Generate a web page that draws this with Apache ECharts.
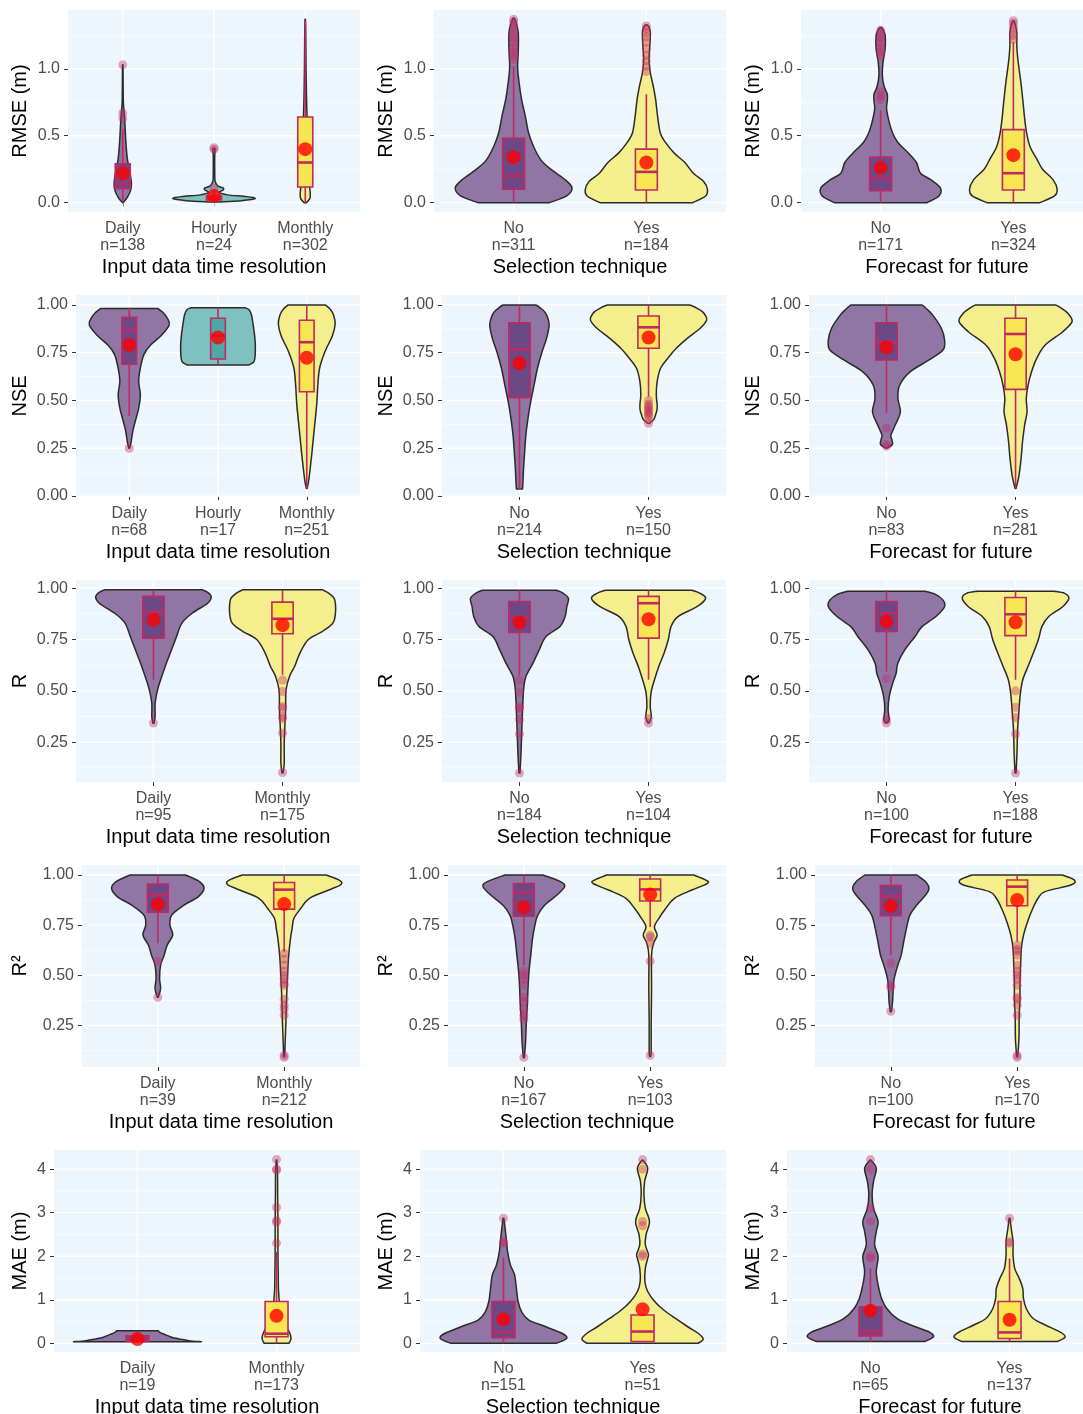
<!DOCTYPE html>
<html>
<head>
<meta charset="utf-8">
<script src="https://cdn.jsdelivr.net/npm/echarts@6/dist/echarts.min.js"></script>
<style>
  html, body { margin: 0; padding: 0; background: #ffffff; }
  #chart { width: 1083px; height: 1414px; }
</style>
</head>
<body>
<div id="chart"></div>
<script>
// ---------------------------------------------------------------
// Axis titles and tick values
// ---------------------------------------------------------------
const metricTitles = ['RMSE (m)', 'NSE', 'R', 'R²', 'MAE (m)'];
const factorTitles = ['Input data time resolution', 'Selection technique', 'Forecast for future'];

const rmseTicks = [0, 0.5, 1.0];
const rmseTickLabels = ['0.0', '0.5', '1.0'];
const rmseMinor = [0.25, 0.75, 1.25];
const nseTicks = [0, 0.25, 0.5, 0.75, 1.0];
const nseTickLabels = ['0.00', '0.25', '0.50', '0.75', '1.00'];
const nseMinor = [0.125, 0.375, 0.625, 0.875];
const rTicks = [0.25, 0.5, 0.75, 1.0];
const rTickLabels = ['0.25', '0.50', '0.75', '1.00'];
const rMinor = [0.125, 0.375, 0.625, 0.875];
const r2Ticks = [0.25, 0.5, 0.75, 1.0];
const r2TickLabels = ['0.25', '0.50', '0.75', '1.00'];
const r2Minor = [0.125, 0.375, 0.625, 0.875];
const maeTicks = [0, 1, 2, 3, 4];
const maeTickLabels = ['0', '1', '2', '3', '4'];
const maeMinor = [0.5, 1.5, 2.5, 3.5];

// Violin outlines are [value, half-width in category units], bottom to top.
// Boxes are [lower whisker, Q1, median, Q3, upper whisker].

// ---------------- RMSE ----------------
const rmseResCats = ['Daily', 'Hourly', 'Monthly'];
const rmseResN = [138, 24, 302];
const rmseResShapes = [
  [[0.0,0.003],[0.04,0.05],[0.09,0.085],[0.14,0.095],[0.2,0.085],[0.27,0.065],[0.33,0.05],[0.4,0.04],[0.48,0.032],[0.56,0.026],[0.63,0.02],[0.69,0.013],[0.76,0.006],[0.9,0.004],[1.03,0.003]],
  [[0.005,0.05],[0.015,0.3],[0.03,0.45],[0.045,0.36],[0.058,0.15],[0.075,0.06],[0.095,0.1],[0.11,0.1],[0.125,0.04],[0.16,0.012],[0.25,0.008],[0.35,0.008],[0.4,0.012],[0.41,0.003]],
  [[0.0,0.012],[0.03,0.05],[0.07,0.055],[0.12,0.048],[0.2,0.04],[0.3,0.035],[0.4,0.03],[0.5,0.026],[0.6,0.022],[0.7,0.017],[0.85,0.012],[1.0,0.009],[1.15,0.007],[1.3,0.005],[1.37,0.002]]
];
const rmseResBoxes = [[0.01,0.104,0.14,0.29,0.55],[0.005,0.02,0.03,0.05,0.1],[0.0,0.117,0.30,0.64,1.36]];
const rmseResMeans = [0.22, 0.05, 0.40];
const rmseResOutliers = [[0.63,0.67,1.03],[0.11,0.4,0.41],[]];

const rmseSelCats = ['No', 'Yes'];
const rmseSelN = [311, 184];
const rmseSelShapes = [
  [[0.0,0.27],[0.05,0.40],[0.11,0.44],[0.17,0.39],[0.25,0.28],[0.32,0.205],[0.42,0.15],[0.52,0.113],[0.65,0.087],[0.77,0.06],[0.89,0.042],[1.01,0.03],[1.14,0.035],[1.27,0.035],[1.34,0.02],[1.38,0.004]],
  [[0.0,0.35],[0.05,0.446],[0.1,0.46],[0.16,0.43],[0.22,0.354],[0.3,0.29],[0.37,0.21],[0.45,0.144],[0.52,0.105],[0.65,0.084],[0.77,0.07],[0.87,0.052],[0.97,0.03],[1.07,0.02],[1.17,0.026],[1.27,0.03],[1.31,0.02],[1.33,0.004]]
];
const rmseSelBoxes = [[0.0,0.10,0.20,0.48,1.02],[0.0,0.095,0.23,0.40,0.81]];
const rmseSelMeans = [0.34, 0.30];
const rmseSelOutliers = [[1.07,1.1,1.13,1.16,1.2,1.23,1.26,1.29,1.32,1.35,1.37],[0.98,1.02,1.06,1.1,1.15,1.2,1.24,1.27,1.3,1.32]];

const rmseFutCats = ['No', 'Yes'];
const rmseFutN = [171, 324];
const rmseFutShapes = [
  [[0.0,0.35],[0.05,0.44],[0.11,0.45],[0.17,0.38],[0.22,0.30],[0.3,0.27],[0.37,0.21],[0.45,0.13],[0.52,0.09],[0.6,0.065],[0.7,0.045],[0.76,0.05],[0.81,0.05],[0.87,0.026],[0.95,0.013],[1.05,0.018],[1.15,0.034],[1.25,0.034],[1.29,0.02],[1.31,0.004]],
  [[0.0,0.2],[0.05,0.31],[0.1,0.33],[0.17,0.30],[0.25,0.22],[0.32,0.18],[0.42,0.125],[0.52,0.10],[0.62,0.086],[0.75,0.073],[0.87,0.06],[0.97,0.047],[1.07,0.034],[1.17,0.026],[1.27,0.026],[1.33,0.015],[1.36,0.003]]
];
const rmseFutBoxes = [[0.0,0.09,0.18,0.34,0.69],[0.0,0.095,0.22,0.546,1.2]];
const rmseFutMeans = [0.26, 0.355];
const rmseFutOutliers = [[0.77,0.8,0.83,1.1,1.13,1.16,1.2,1.23,1.26,1.29],[1.22,1.25,1.28,1.31,1.34,1.36]];

// ---------------- NSE ----------------
const nseResCats = ['Daily', 'Hourly', 'Monthly'];
const nseResN = [68, 17, 251];
const nseResShapes = [
  [[0.25,0.004],[0.28,0.02],[0.34,0.04],[0.39,0.067],[0.46,0.106],[0.53,0.125],[0.6,0.106],[0.67,0.125],[0.74,0.165],[0.79,0.24],[0.84,0.36],[0.895,0.45],[0.93,0.43],[0.96,0.38],[0.982,0.32]],
  [[0.686,0.35],[0.7,0.40],[0.72,0.415],[0.75,0.42],[0.8,0.42],[0.85,0.41],[0.9,0.395],[0.95,0.376],[0.975,0.35],[0.985,0.31]],
  [[0.04,0.004],[0.075,0.02],[0.145,0.039],[0.23,0.059],[0.32,0.078],[0.41,0.098],[0.49,0.114],[0.58,0.125],[0.67,0.145],[0.755,0.205],[0.84,0.29],[0.9,0.32],[0.95,0.30],[0.98,0.26],[1.0,0.21]]
];
const nseResBoxes = [[0.42,0.69,0.87,0.935,0.985],[0.69,0.717,0.84,0.93,0.985],[0.04,0.546,0.805,0.92,1.0]];
const nseResMeans = [0.79, 0.83, 0.724];
const nseResOutliers = [[0.25],[],[]];

const nseSelCats = ['No', 'Yes'];
const nseSelN = [214, 150];
const nseSelShapes = [
  [[0.037,0.024],[0.06,0.026],[0.145,0.032],[0.23,0.04],[0.32,0.05],[0.41,0.067],[0.49,0.086],[0.58,0.113],[0.67,0.14],[0.755,0.175],[0.825,0.21],[0.895,0.23],[0.94,0.215],[0.965,0.194],[0.985,0.16],[1.0,0.127]],
  [[0.38,0.004],[0.40,0.04],[0.424,0.054],[0.45,0.065],[0.476,0.067],[0.53,0.06],[0.6,0.067],[0.67,0.094],[0.72,0.148],[0.773,0.215],[0.825,0.30],[0.878,0.40],[0.92,0.45],[0.945,0.44],[0.965,0.417],[0.985,0.37],[1.0,0.32]]
];
const nseSelBoxes = [[0.037,0.515,0.768,0.907,1.0],[0.52,0.773,0.883,0.942,1.0]];
const nseSelMeans = [0.695, 0.83];
const nseSelOutliers = [[],[0.38,0.40,0.42,0.43,0.44,0.45,0.46,0.47,0.48,0.5]];

const nseFutCats = ['No', 'Yes'];
const nseFutN = [83, 281];
const nseFutShapes = [
  [[0.25,0.004],[0.265,0.04],[0.276,0.048],[0.3,0.04],[0.32,0.035],[0.37,0.067],[0.44,0.108],[0.51,0.089],[0.58,0.102],[0.65,0.183],[0.712,0.33],[0.764,0.438],[0.817,0.45],[0.878,0.425],[0.948,0.357],[0.98,0.31],[1.0,0.277]],
  [[0.04,0.004],[0.11,0.027],[0.197,0.043],[0.284,0.054],[0.37,0.07],[0.44,0.089],[0.51,0.083],[0.58,0.097],[0.65,0.124],[0.72,0.164],[0.79,0.23],[0.86,0.366],[0.913,0.438],[0.956,0.405],[0.985,0.35],[1.0,0.31]]
];
const nseFutBoxes = [[0.433,0.712,0.805,0.907,1.0],[0.04,0.558,0.848,0.93,1.0]];
const nseFutMeans = [0.777, 0.742];
const nseFutOutliers = [[0.355,0.27,0.26],[]];

// ---------------- R ----------------
const rResCats = ['Daily', 'Monthly'];
const rResN = [95, 175];
const rResShapes = [
  [[0.342,0.004],[0.375,0.013],[0.44,0.013],[0.505,0.032],[0.57,0.064],[0.635,0.10],[0.70,0.14],[0.766,0.18],[0.83,0.22],[0.878,0.30],[0.927,0.42],[0.96,0.448],[0.98,0.42],[0.992,0.38]],
  [[0.1,0.004],[0.148,0.013],[0.245,0.013],[0.343,0.019],[0.41,0.024],[0.505,0.027],[0.57,0.054],[0.62,0.094],[0.683,0.134],[0.75,0.20],[0.79,0.31],[0.83,0.39],[0.878,0.41],[0.92,0.41],[0.95,0.40],[0.975,0.36],[0.992,0.31]]
];
const rResBoxes = [[0.554,0.757,0.883,0.96,0.99],[0.578,0.778,0.851,0.932,0.99]];
const rResMeans = [0.846, 0.82];
const rResOutliers = [[0.343],[0.553,0.497,0.424,0.415,0.375,0.365,0.294,0.102]];

const rSelCats = ['No', 'Yes'];
const rSelN = [184, 104];
const rSelShapes = [
  [[0.1,0.004],[0.21,0.013],[0.36,0.021],[0.505,0.032],[0.57,0.05],[0.635,0.105],[0.70,0.153],[0.765,0.206],[0.813,0.314],[0.862,0.354],[0.91,0.367],[0.95,0.38],[0.975,0.34],[0.99,0.287]],
  [[0.343,0.004],[0.375,0.021],[0.424,0.013],[0.49,0.019],[0.554,0.046],[0.62,0.08],[0.683,0.12],[0.75,0.153],[0.813,0.174],[0.862,0.228],[0.91,0.375],[0.95,0.442],[0.975,0.40],[0.99,0.335]]
];
const rSelBoxes = [[0.573,0.784,0.857,0.935,0.99],[0.554,0.757,0.927,0.96,0.99]];
const rSelMeans = [0.833, 0.849];
const rSelOutliers = [[0.55,0.495,0.42,0.415,0.36,0.29,0.1],[0.365,0.343]];

const rFutCats = ['No', 'Yes'];
const rFutN = [100, 188];
const rFutShapes = [
  [[0.343,0.004],[0.36,0.021],[0.41,0.013],[0.47,0.021],[0.537,0.048],[0.586,0.075],[0.635,0.088],[0.70,0.142],[0.765,0.222],[0.813,0.276],[0.862,0.383],[0.91,0.45],[0.943,0.437],[0.97,0.38],[0.985,0.30]],
  [[0.1,0.004],[0.196,0.011],[0.31,0.016],[0.41,0.027],[0.49,0.038],[0.554,0.056],[0.62,0.097],[0.683,0.137],[0.75,0.177],[0.813,0.204],[0.862,0.257],[0.91,0.365],[0.95,0.413],[0.975,0.38],[0.985,0.298]]
];
const rFutBoxes = [[0.594,0.789,0.878,0.935,0.99],[0.554,0.769,0.873,0.955,0.99]];
const rFutMeans = [0.838, 0.834];
const rFutOutliers = [[0.56,0.36,0.343],[0.5,0.42,0.37,0.29,0.1]];

// ---------------- R² ----------------
const r2ResCats = ['Daily', 'Monthly'];
const r2ResN = [39, 212];
const r2ResShapes = [
  [[0.39,0.004],[0.434,0.022],[0.484,0.014],[0.55,0.022],[0.6,0.05],[0.65,0.074],[0.7,0.118],[0.75,0.096],[0.8,0.11],[0.85,0.207],[0.89,0.317],[0.933,0.366],[0.967,0.33],[1.0,0.22]],
  [[0.093,0.004],[0.168,0.008],[0.268,0.014],[0.35,0.017],[0.434,0.022],[0.518,0.028],[0.6,0.036],[0.684,0.05],[0.734,0.063],[0.784,0.077],[0.834,0.132],[0.884,0.2],[0.925,0.353],[0.953,0.45],[0.975,0.435],[1.0,0.33]]
];
const r2ResBoxes = [[0.66,0.814,0.9,0.955,1.0],[0.617,0.83,0.927,0.963,1.0]];
const r2ResMeans = [0.854, 0.855];
const r2ResOutliers = [[0.57,0.39],[0.61,0.58,0.55,0.52,0.5,0.48,0.46,0.45,0.38,0.35,0.33,0.3,0.1,0.09]];

const r2SelCats = ['No', 'Yes'];
const r2SelN = [167, 103];
const r2SelShapes = [
  [[0.088,0.004],[0.168,0.014],[0.268,0.02],[0.35,0.028],[0.434,0.033],[0.518,0.041],[0.6,0.055],[0.684,0.069],[0.75,0.088],[0.8,0.11],[0.85,0.166],[0.9,0.262],[0.942,0.323],[0.967,0.29],[1.0,0.15]],
  [[0.095,0.004],[0.118,0.008],[0.268,0.008],[0.434,0.011],[0.6,0.011],[0.66,0.027],[0.7,0.055],[0.742,0.033],[0.784,0.069],[0.834,0.124],[0.884,0.192],[0.925,0.33],[0.958,0.453],[0.975,0.44],[1.0,0.343]]
];
const r2SelBoxes = [[0.55,0.795,0.912,0.958,1.0],[0.74,0.87,0.928,0.98,1.0]];
const r2SelMeans = [0.839, 0.903];
const r2SelOutliers = [[0.52,0.5,0.48,0.45,0.39,0.37,0.33,0.3,0.28,0.09],[0.7,0.69,0.66,0.57,0.1]];

const r2FutCats = ['No', 'Yes'];
const r2FutN = [100, 170];
const r2FutShapes = [
  [[0.318,0.004],[0.368,0.014],[0.434,0.019],[0.484,0.027],[0.55,0.055],[0.6,0.082],[0.667,0.102],[0.734,0.124],[0.8,0.151],[0.85,0.206],[0.9,0.275],[0.933,0.302],[0.967,0.275],[1.0,0.206]],
  [[0.093,0.004],[0.185,0.014],[0.3,0.016],[0.385,0.022],[0.468,0.022],[0.55,0.027],[0.634,0.033],[0.7,0.05],[0.767,0.082],[0.834,0.124],[0.884,0.165],[0.917,0.22],[0.95,0.426],[0.975,0.453],[1.0,0.357]]
];
const r2FutBoxes = [[0.6,0.797,0.895,0.947,1.0],[0.667,0.847,0.942,0.975,1.0]];
const r2FutMeans = [0.845, 0.875];
const r2FutOutliers = [[0.56,0.45,0.44,0.32],[0.65,0.63,0.62,0.6,0.55,0.52,0.5,0.48,0.45,0.39,0.38,0.35,0.3,0.1,0.09]];

// ---------------- MAE ----------------
const maeResCats = ['Daily', 'Monthly'];
const maeResN = [19, 173];
const maeResShapes = [
  [[0.035,0.46],[0.06,0.37],[0.1,0.3],[0.135,0.25],[0.2,0.2],[0.25,0.16],[0.29,0.15]],
  [[0.0,0.09],[0.11,0.104],[0.26,0.092],[0.38,0.067],[0.53,0.043],[0.84,0.024],[1.22,0.014],[1.6,0.012],[2.07,0.01],[2.76,0.01],[3.4,0.008],[3.9,0.007],[4.21,0.002]]
];
const maeResBoxes = [[0.03,0.04,0.08,0.17,0.28],[0.0,0.15,0.22,0.96,2.1]];
const maeResMeans = [0.1, 0.63];
const maeResOutliers = [[],[4.22,4.0,3.98,3.12,2.82,2.78,2.3]];

const maeSelCats = ['No', 'Yes'];
const maeSelN = [151, 51];
const maeSelShapes = [
  [[0.0,0.38],[0.115,0.455],[0.23,0.42],[0.38,0.305],[0.54,0.18],[0.73,0.13],[0.96,0.105],[1.26,0.093],[1.57,0.08],[1.8,0.05],[2.1,0.03],[2.34,0.022],[2.64,0.012],[2.87,0.003]],
  [[0.0,0.4],[0.1,0.436],[0.23,0.4],[0.38,0.325],[0.57,0.237],[0.77,0.15],[0.96,0.087],[1.19,0.037],[1.42,0.017],[1.72,0.02],[1.95,0.037],[2.05,0.042],[2.26,0.02],[2.49,0.025],[2.8,0.05],[3.1,0.02],[3.41,0.01],[3.72,0.015],[4.02,0.037],[4.21,0.003]]
];
const maeSelBoxes = [[0.0,0.13,0.25,0.96,1.97],[0.0,0.04,0.27,0.65,0.65]];
const maeSelMeans = [0.55, 0.78];
const maeSelOutliers = [[2.87,2.33,2.3],[4.22,4.0,2.8,2.7,2.05,2.0]];

const maeFutCats = ['No', 'Yes'];
const maeFutN = [65, 137];
const maeFutShapes = [
  [[0.04,0.39],[0.15,0.454],[0.27,0.416],[0.42,0.29],[0.57,0.19],[0.8,0.117],[1.03,0.08],[1.34,0.055],[1.65,0.042],[1.99,0.055],[2.26,0.03],[2.57,0.042],[2.8,0.055],[3.1,0.022],[3.41,0.012],[3.72,0.022],[4.02,0.042],[4.21,0.003]],
  [[0.04,0.344],[0.15,0.40],[0.27,0.357],[0.42,0.257],[0.57,0.17],[0.8,0.12],[1.03,0.10],[1.26,0.095],[1.49,0.07],[1.72,0.037],[2.03,0.025],[2.34,0.025],[2.64,0.012],[2.87,0.003]]
];
const maeFutBoxes = [[0.04,0.17,0.27,0.84,1.72],[0.04,0.11,0.25,0.96,1.95]];
const maeFutMeans = [0.75, 0.54];
const maeFutOutliers = [[4.22,4.0,3.1,2.8,2.0,1.95],[2.87,2.33,2.3]];

// ---------------------------------------------------------------
// Styling
// ---------------------------------------------------------------
const FONT = '"Liberation Sans", Arimo, Helvetica, Arial, sans-serif';
const PANEL_BG = '#EDF5FD';
const BOX_LINE = '#BE2A62';
const violinFill = { Daily: '#9175A5', Hourly: '#7EC1C0', Monthly: '#F5EE8C', No: '#9175A5', Yes: '#F5EE8C' };
const boxFill = { Daily: '#6E4787', Hourly: '#4FA8A6', Monthly: '#F8E552', No: '#6E4787', Yes: '#F8E552' };
const BOX_WIDTH = 0.165;

// Axis setup for each metric row
const metricAxes = [
  { ticks: rmseTicks, labels: rmseTickLabels, minor: rmseMinor, range: [-0.07, 1.44] },
  { ticks: nseTicks, labels: nseTickLabels, minor: nseMinor, range: [-0.005, 1.052] },
  { ticks: rTicks, labels: rTickLabels, minor: rMinor, range: [0.056, 1.04] },
  { ticks: r2Ticks, labels: r2TickLabels, minor: r2Minor, range: [0.042, 1.05] },
  { ticks: maeTicks, labels: maeTickLabels, minor: maeMinor, range: [-0.2, 4.44] }
];

const panels = [
  { row: 0, col: 0, cats: rmseResCats, n: rmseResN, shapes: rmseResShapes, boxes: rmseResBoxes, means: rmseResMeans, outliers: rmseResOutliers },
  { row: 0, col: 1, cats: rmseSelCats, n: rmseSelN, shapes: rmseSelShapes, boxes: rmseSelBoxes, means: rmseSelMeans, outliers: rmseSelOutliers },
  { row: 0, col: 2, cats: rmseFutCats, n: rmseFutN, shapes: rmseFutShapes, boxes: rmseFutBoxes, means: rmseFutMeans, outliers: rmseFutOutliers },
  { row: 1, col: 0, cats: nseResCats, n: nseResN, shapes: nseResShapes, boxes: nseResBoxes, means: nseResMeans, outliers: nseResOutliers },
  { row: 1, col: 1, cats: nseSelCats, n: nseSelN, shapes: nseSelShapes, boxes: nseSelBoxes, means: nseSelMeans, outliers: nseSelOutliers },
  { row: 1, col: 2, cats: nseFutCats, n: nseFutN, shapes: nseFutShapes, boxes: nseFutBoxes, means: nseFutMeans, outliers: nseFutOutliers },
  { row: 2, col: 0, cats: rResCats, n: rResN, shapes: rResShapes, boxes: rResBoxes, means: rResMeans, outliers: rResOutliers },
  { row: 2, col: 1, cats: rSelCats, n: rSelN, shapes: rSelShapes, boxes: rSelBoxes, means: rSelMeans, outliers: rSelOutliers },
  { row: 2, col: 2, cats: rFutCats, n: rFutN, shapes: rFutShapes, boxes: rFutBoxes, means: rFutMeans, outliers: rFutOutliers },
  { row: 3, col: 0, cats: r2ResCats, n: r2ResN, shapes: r2ResShapes, boxes: r2ResBoxes, means: r2ResMeans, outliers: r2ResOutliers },
  { row: 3, col: 1, cats: r2SelCats, n: r2SelN, shapes: r2SelShapes, boxes: r2SelBoxes, means: r2SelMeans, outliers: r2SelOutliers },
  { row: 3, col: 2, cats: r2FutCats, n: r2FutN, shapes: r2FutShapes, boxes: r2FutBoxes, means: r2FutMeans, outliers: r2FutOutliers },
  { row: 4, col: 0, cats: maeResCats, n: maeResN, shapes: maeResShapes, boxes: maeResBoxes, means: maeResMeans, outliers: maeResOutliers },
  { row: 4, col: 1, cats: maeSelCats, n: maeSelN, shapes: maeSelShapes, boxes: maeSelBoxes, means: maeSelMeans, outliers: maeSelOutliers },
  { row: 4, col: 2, cats: maeFutCats, n: maeFutN, shapes: maeFutShapes, boxes: maeFutBoxes, means: maeFutMeans, outliers: maeFutOutliers }
];

// Page layout (pixels)
const colStarts = [0, 366, 733];
const rowTops = [10, 295, 580, 865, 1150];
const rowLeftOffsets = [68, 76, 76, 82, 54];
const PANEL_RIGHT = 360;
const PANEL_H = 202;

// Smooth open curve through pixel points (Catmull-Rom as cubic Beziers)
function curveThrough(pts) {
  let d = '';
  for (let i = 0; i < pts.length - 1; i++) {
    const p0 = pts[Math.max(i - 1, 0)], p1 = pts[i], p2 = pts[i + 1], p3 = pts[Math.min(i + 2, pts.length - 1)];
    const c1x = p1[0] + (p2[0] - p0[0]) / 6, c1y = p1[1] + (p2[1] - p0[1]) / 6;
    const c2x = p2[0] - (p3[0] - p1[0]) / 6, c2y = p2[1] - (p3[1] - p1[1]) / 6;
    d += ' C' + c1x.toFixed(2) + ',' + c1y.toFixed(2) + ' ' + c2x.toFixed(2) + ',' + c2y.toFixed(2) + ' ' + p2[0].toFixed(2) + ',' + p2[1].toFixed(2);
  }
  return d;
}

const grids = [], xAxes = [], yAxes = [], series = [];

panels.forEach((p, k) => {
  const m = metricAxes[p.row];
  const left = colStarts[p.col] + rowLeftOffsets[p.row];
  const width = colStarts[p.col] + PANEL_RIGHT - left;
  const catPos = p.cats.map((c, i) => i + 1);
  const xMin = 0.4, xMax = p.cats.length + 0.6;

  grids.push({
    left: left, top: rowTops[p.row], width: width, height: PANEL_H,
    show: true, backgroundColor: PANEL_BG, borderWidth: 0,
    containLabel: false, outerBoundsMode: 'none'
  });

  xAxes.push({
    gridIndex: k, type: 'value', min: xMin, max: xMax,
    axisLine: { show: false }, splitLine: { show: false },
    axisTick: { show: true, customValues: catPos, length: 4, lineStyle: { color: '#333333', width: 1 } },
    axisLabel: {
      show: true, customValues: catPos, margin: 8, color: '#4D4D4D', fontSize: 16, lineHeight: 17, fontFamily: FONT,
      formatter: function (v) {
        const i = Math.round(v) - 1;
        return p.cats[i] + '\nn=' + p.n[i];
      }
    },
    name: factorTitles[p.col], nameLocation: 'middle', nameGap: 45,
    nameTextStyle: { color: '#000000', fontSize: 20, fontFamily: FONT }
  });

  yAxes.push({
    gridIndex: k, type: 'value', min: m.range[0], max: m.range[1],
    axisLine: { show: false }, splitLine: { show: false },
    axisTick: { show: true, customValues: m.ticks, length: 4, lineStyle: { color: '#333333', width: 1 } },
    axisLabel: {
      show: true, customValues: m.ticks, margin: 8, color: '#4D4D4D', fontSize: 16, fontFamily: FONT,
      formatter: function (v) {
        const i = m.ticks.findIndex(t => Math.abs(t - v) < 1e-9);
        return i >= 0 ? m.labels[i] : '';
      }
    },
    name: metricTitles[p.row], nameLocation: 'middle', nameGap: rowLeftOffsets[p.row] - 30,
    nameTextStyle: { color: '#000000', fontSize: 20, fontFamily: FONT }
  });

  // panel grid lines: 0 = major horizontal, 1 = minor horizontal, 2 = vertical at categories
  const gridLineData = []
    .concat(m.ticks.map(v => [v, 0]))
    .concat(m.minor.map(v => [v, 1]))
    .concat(catPos.map(v => [v, 2]));
  series.push({
    type: 'custom', xAxisIndex: k, yAxisIndex: k, silent: true, z: 1,
    data: gridLineData, encode: { x: 0, y: 0 },
    renderItem: function (params, api) {
      const cs = params.coordSys;
      const v = api.value(0), kind = api.value(1);
      if (kind === 2) {
        const px = api.coord([v, m.range[0]])[0];
        return { type: 'line', shape: { x1: px, y1: cs.y, x2: px, y2: cs.y + cs.height }, style: { stroke: '#FFFFFF', lineWidth: 1.3 } };
      }
      const py = api.coord([xMin, v])[1];
      return { type: 'line', shape: { x1: cs.x, y1: py, x2: cs.x + cs.width, y2: py }, style: { stroke: '#FFFFFF', lineWidth: kind === 0 ? 1.3 : 0.7 } };
    }
  });

  // violins with box plots
  series.push({
    type: 'custom', xAxisIndex: k, yAxisIndex: k, silent: true, z: 2,
    data: catPos.map(v => [v, m.range[0]]), encode: { x: 0, y: 1 },
    renderItem: function (params, api) {
      const i = params.dataIndex;
      const x = i + 1;
      const cat = p.cats[i];
      const shape = p.shapes[i];
      const leftPts = shape.map(s => api.coord([x - s[1], s[0]]));
      const rightPts = shape.slice().reverse().map(s => api.coord([x + s[1], s[0]]));
      let d = 'M' + leftPts[0][0].toFixed(2) + ',' + leftPts[0][1].toFixed(2) + curveThrough(leftPts);
      d += ' L' + rightPts[0][0].toFixed(2) + ',' + rightPts[0][1].toFixed(2) + curveThrough(rightPts) + ' Z';

      const b = p.boxes[i];
      const pLo = api.coord([x, b[0]]), pQ1 = api.coord([x, b[1]]), pMed = api.coord([x, b[2]]);
      const pQ3 = api.coord([x, b[3]]), pHi = api.coord([x, b[4]]);
      const bl = api.coord([x - BOX_WIDTH / 2, b[3]]), br = api.coord([x + BOX_WIDTH / 2, b[1]]);

      return {
        type: 'group',
        children: [
          { type: 'path', shape: { pathData: d }, style: { fill: violinFill[cat], stroke: '#2B2B2B', lineWidth: 1.5, lineJoin: 'round' } },
          { type: 'line', shape: { x1: pHi[0], y1: pHi[1], x2: pQ3[0], y2: pQ3[1] }, style: { stroke: BOX_LINE, lineWidth: 1.6 } },
          { type: 'line', shape: { x1: pQ1[0], y1: pQ1[1], x2: pLo[0], y2: pLo[1] }, style: { stroke: BOX_LINE, lineWidth: 1.6 } },
          { type: 'rect', shape: { x: bl[0], y: bl[1], width: br[0] - bl[0], height: br[1] - bl[1] }, style: { fill: boxFill[cat], stroke: BOX_LINE, lineWidth: 1.6 } },
          { type: 'line', shape: { x1: bl[0], y1: pMed[1], x2: br[0], y2: pMed[1] }, style: { stroke: BOX_LINE, lineWidth: 2.6 } }
        ]
      };
    }
  });

  // outlying observations
  const outData = [];
  p.outliers.forEach((list, i) => list.forEach(v => outData.push([i + 1, v])));
  series.push({
    type: 'scatter', xAxisIndex: k, yAxisIndex: k, silent: true, z: 3,
    symbol: 'circle', symbolSize: 9, data: outData,
    itemStyle: { color: 'rgba(192,44,100,0.5)', borderWidth: 0 }
  });

  // group means
  series.push({
    type: 'scatter', xAxisIndex: k, yAxisIndex: k, silent: true, z: 4,
    symbol: 'circle', symbolSize: 14, data: p.means.map((v, i) => [i + 1, v]),
    itemStyle: { color: '#FF0000', borderWidth: 0 }
  });
});

const chart = echarts.init(document.getElementById('chart'), null, { renderer: 'canvas' });
chart.setOption({
  backgroundColor: '#FFFFFF',
  animation: false,
  textStyle: { fontFamily: FONT },
  grid: grids,
  xAxis: xAxes,
  yAxis: yAxes,
  series: series
});
</script>
</body>
</html>
